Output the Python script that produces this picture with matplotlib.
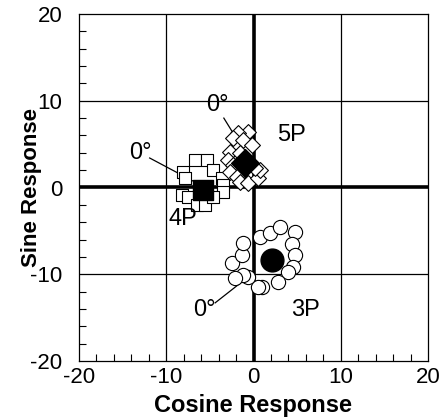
import matplotlib
matplotlib.use("Agg")
import matplotlib.pyplot as plt
from matplotlib.ticker import MultipleLocator

plt.rcParams['font.family'] = ['Liberation Sans', 'DejaVu Sans']
plt.rcParams['axes.unicode_minus'] = False

# 4P harmonic (squares)
p4_x = [-6.7, -5.3, -4.6, -8.1, -7.9, -3.6, -3.5, -3.5, -8.2, -7.5, -6.5, -5.6, -4.6]
p4_y = [3.2, 3.2, 2.0, 1.8, 1.1, 1.1, 0.3, -0.5, -0.9, -1.1, -2.0, -2.0, -1.1]
p4_mean = (-5.8, -0.3)

# 5P harmonic (diamonds)
p5_x = [-0.6, -1.8, -2.4, -1.2, -0.2, -2.7, -1.5, -2.9, -2.4, -2.7, -1.9, -1.5, -0.6, 0.5, 0.7, 0.2]
p5_y = [6.4, 6.3, 5.7, 5.5, 4.9, 4.1, 4.0, 3.2, 2.6, 1.8, 1.2, 0.6, 0.5, 1.1, 2.0, 2.2]
p5_mean = (-1.0, 2.8)

# 3P harmonic (circles)
p3_x = [0.7, 1.9, 3.0, 4.8, 4.4, 4.8, 4.5, 4.0, 2.8, 1.0, 0.5, -0.6, -1.2, -2.1, -2.5, -1.3, -1.2]
p3_y = [-5.7, -5.2, -4.6, -5.1, -6.5, -7.8, -9.2, -9.7, -10.9, -11.5, -11.5, -10.3, -10.1, -10.4, -8.7, -7.8, -6.4]
p3_mean = (2.1, -8.4)

# labels: (text, x, y)
labels = [("5P", 4.3, 6.0), ("4P", -8.1, -3.6), ("3P", 5.9, -14.1)]
zero_labels = [(-13.0, 4.0), (-4.1, 9.5), (-5.6, -14.1)]
leaders = [((-11.9, 3.4), (-6.1, 0.3)), ((-3.4, 8.0), (-1.0, 4.1)), ((-4.4, -13.3), (-0.6, -10.3))]

ticks = [-20, -10, 0, 10, 20]

fig = plt.figure(figsize=(4.45, 4.19), dpi=100)
ax = fig.add_axes([79/445, 58/419, 349/445, 347/419])
ax.set_xlim(-20, 20)
ax.set_ylim(-20, 20)

for v in [-10, 10]:
    ax.axvline(v, color='black', lw=0.9, zorder=1)
    ax.axhline(v, color='black', lw=0.9, zorder=1)
ax.axvline(0, color='black', lw=2.6, zorder=1)
ax.axhline(0, color='black', lw=2.6, zorder=1)

for (a, b) in leaders:
    ax.plot([a[0], b[0]], [a[1], b[1]], color='black', lw=0.9, zorder=2)

ax.scatter(p4_x, p4_y, marker='s', s=75, facecolor='white', edgecolor='black', lw=0.8, zorder=3)
ax.scatter([p4_mean[0]], [p4_mean[1]], marker='s', s=220, facecolor='black', edgecolor='black', zorder=4)
ax.scatter(p5_x, p5_y, marker='D', s=65, facecolor='white', edgecolor='black', lw=0.8, zorder=3)
ax.scatter([p5_mean[0]], [p5_mean[1]], marker='D', s=200, facecolor='black', edgecolor='black', zorder=4)
ax.scatter(p3_x, p3_y, marker='o', s=105, facecolor='white', edgecolor='black', lw=0.8, zorder=3)
ax.scatter([p3_mean[0]], [p3_mean[1]], marker='o', s=270, facecolor='black', edgecolor='black', zorder=4)

for t, x, y in labels:
    ax.text(x, y, t, fontsize=17, ha='center', va='center', zorder=5)
for x, y in zero_labels:
    ax.text(x, y, "0°", fontsize=17, ha='center', va='center', zorder=5)

ax.set_xticks(ticks)
ax.set_yticks(ticks)
ax.xaxis.set_minor_locator(MultipleLocator(2))
ax.yaxis.set_minor_locator(MultipleLocator(2))
ax.tick_params(which='both', direction='in', top=False, right=False, labelsize=16)
ax.tick_params(axis='x', which='major', pad=4)
ax.tick_params(axis='y', which='major', pad=12)
ax.tick_params(which='major', length=0)
ax.tick_params(which='minor', length=5, width=0.8)
for sp in ax.spines.values():
    sp.set_linewidth(0.9)

ax.set_xlabel("Cosine Response", fontsize=17, fontweight='bold')
ax.set_ylabel("Sine Response", fontsize=16, fontweight='bold')
ax.xaxis.set_label_coords(0.5, -33/347)
ax.yaxis.set_label_coords(-37/349, 0.5)

fig.savefig("out.png", dpi=100)
